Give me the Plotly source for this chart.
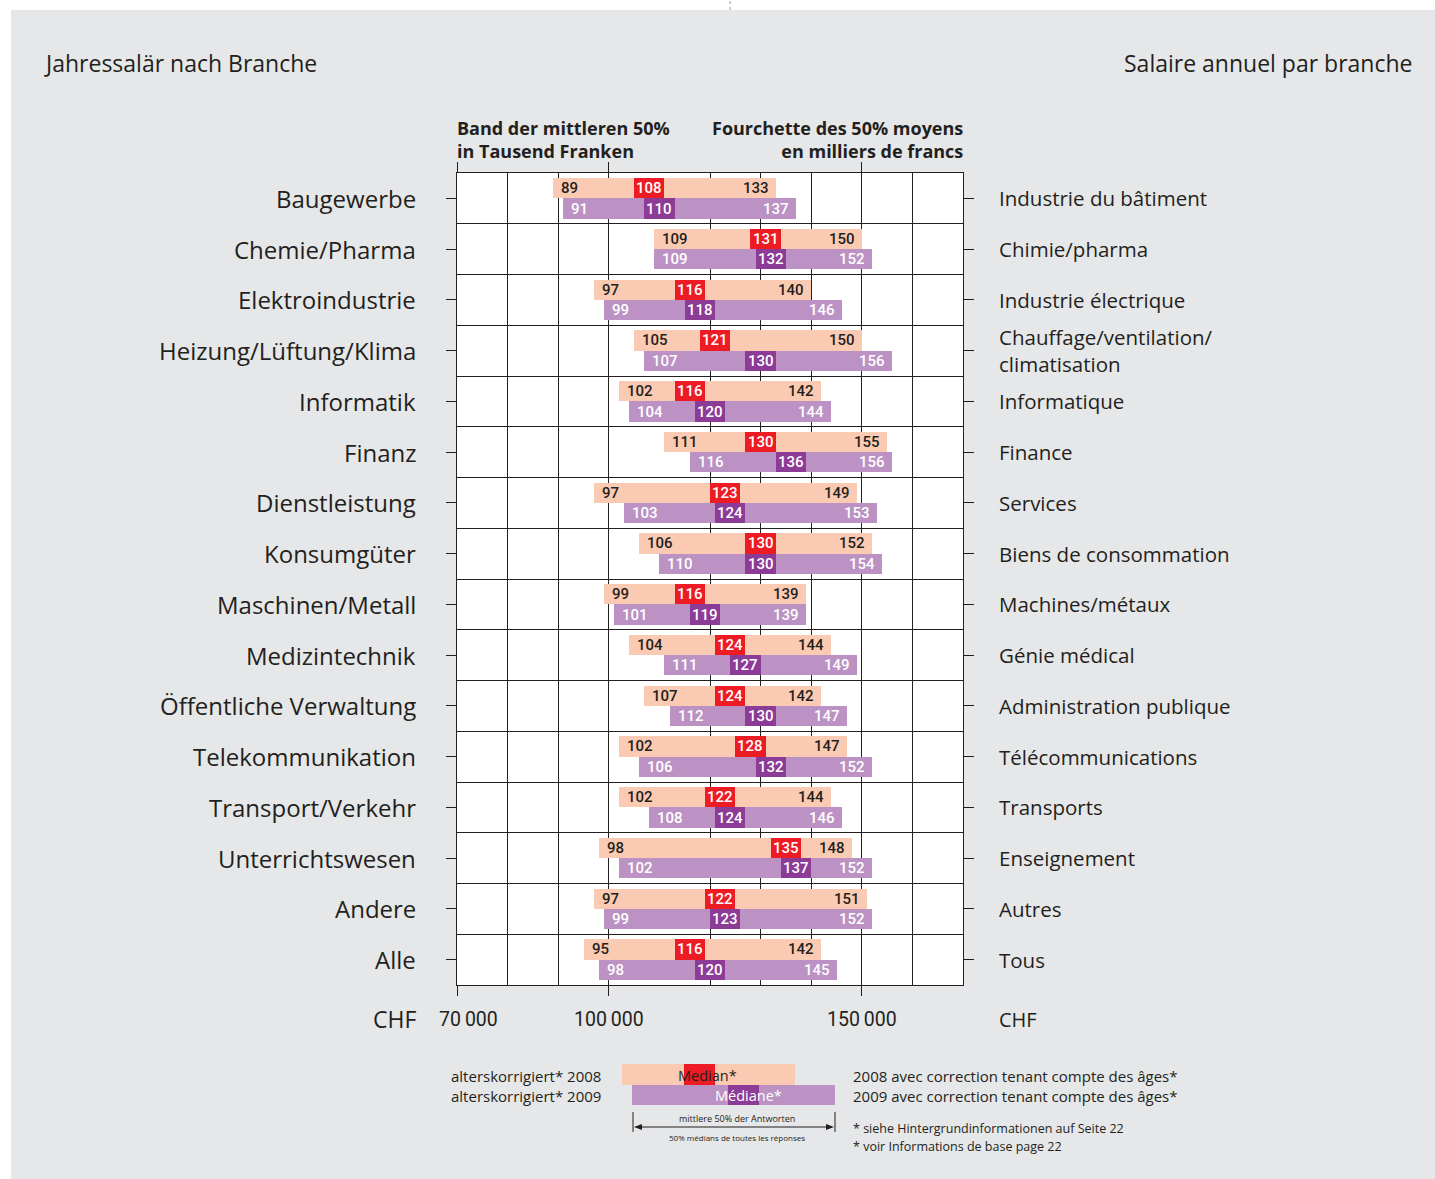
import plotly.graph_objects as go

# --- data (thousand CHF) ---
branchen_de = ["Baugewerbe", "Chemie/Pharma", "Elektroindustrie", "Heizung/Lüftung/Klima",
               "Informatik", "Finanz", "Dienstleistung", "Konsumgüter", "Maschinen/Metall",
               "Medizintechnik", "Öffentliche Verwaltung", "Telekommunikation",
               "Transport/Verkehr", "Unterrichtswesen", "Andere", "Alle"]
branches_fr = ["Industrie du bâtiment", "Chimie/pharma", "Industrie électrique",
               "Chauffage/ventilation/<br>climatisation", "Informatique", "Finance", "Services",
               "Biens de consommation", "Machines/métaux", "Génie médical",
               "Administration publique", "Télécommunications", "Transports", "Enseignement",
               "Autres", "Tous"]

low_2008 = [89, 109, 97, 105, 102, 111, 97, 106, 99, 104, 107, 102, 102, 98, 97, 95]
med_2008 = [108, 131, 116, 121, 116, 130, 123, 130, 116, 124, 124, 128, 122, 135, 122, 116]
high_2008 = [133, 150, 140, 150, 142, 155, 149, 152, 139, 144, 142, 147, 144, 148, 151, 142]

low_2009 = [91, 109, 99, 107, 104, 116, 103, 110, 101, 111, 112, 106, 108, 102, 99, 98]
med_2009 = [110, 132, 118, 130, 120, 136, 124, 130, 119, 127, 130, 132, 124, 137, 123, 120]
high_2009 = [137, 152, 146, 156, 144, 156, 153, 154, 139, 149, 147, 152, 146, 152, 152, 145]

x_ticks = [70000, 100000, 150000]
x_ticktext = ["70\u2009000", "100\u2009000", "150\u2009000"]
x_grid = [80000, 90000, 120000, 130000, 140000, 160000]

SALMON = "#FBCAB2"
RED = "#ED1C24"
LILAC = "#BB92C3"
PURPLE = "#8C3B97"
DARK = "#231F20"
BG = "#E6E7E8"
FONT = "Open Sans"
NUM_FONT = "Roboto"
MED_W = 6000

n = len(branchen_de)
rows = list(range(n))


# pixel -> paper helpers (plot area 457..963 x 173..985)
def px(p):
    return (p - 457) / 506


def py(p):
    return (985 - p) / 812


def note(x, y, text, size, color=DARK, xanchor="left", bold=False, family=FONT, weight=None,
         **kw):
    if bold:
        text = "<br>".join(f"<b>{t}</b>" for t in text.split("<br>"))
    font = dict(size=size, color=color, family=family)
    if weight:
        font["weight"] = weight
    d = dict(x=x, y=y, xref=kw.pop("xref", "paper"), yref=kw.pop("yref", "paper"), text=text,
             xanchor=xanchor, yanchor="middle", showarrow=False, font=font)
    d.update(kw)
    return d


fig = go.Figure()

for lows, meds, highs, off, c_band, c_med in [
    (low_2008, med_2008, high_2008, -0.2, SALMON, RED),
    (low_2009, med_2009, high_2009, 0.2, LILAC, PURPLE),
]:
    ys = [r + off for r in rows]
    fig.add_trace(go.Bar(orientation="h", y=ys, base=[v * 1000 for v in lows],
                         x=[(h - l) * 1000 for l, h in zip(lows, highs)],
                         width=0.4, marker=dict(color=c_band, line_width=0),
                         hoverinfo="skip", showlegend=False))
    fig.add_trace(go.Bar(orientation="h", y=ys, base=[m * 1000 - MED_W / 2 for m in meds],
                         x=[MED_W] * n, width=0.4, marker=dict(color=c_med, line_width=0),
                         hoverinfo="skip", showlegend=False))

annotations = []
num_size = 15
for i in rows:
    for lows, meds, highs, off, col in [
        (low_2008, med_2008, high_2008, -0.2, DARK),
        (low_2009, med_2009, high_2009, 0.2, "white"),
    ]:
        y = i + off
        annotations.append(note(lows[i] * 1000, y, str(lows[i]), num_size, col,
                                family=NUM_FONT, weight=500, xref="x", yref="y", xshift=6))
        annotations.append(note(highs[i] * 1000, y, str(highs[i]), num_size, col, "right",
                                family=NUM_FONT, weight=500, xref="x", yref="y", xshift=-5))
        annotations.append(note(meds[i] * 1000, y, str(meds[i]), num_size, "white", "center",
                                family=NUM_FONT, weight=500, xref="x", yref="y"))
    annotations.append(note(px(416), i, branchen_de[i], 24, DARK, "right", yref="y", xshift=2,
                            weight=500))
    annotations.append(note(px(999), i, branches_fr[i], 20.5, DARK, "left", yref="y",
                            align="left", xshift=-2, weight=500))

# tick labels
for v, t in zip(x_ticks, x_ticktext):
    annotations.append(note(v, py(1019), t, 19.5, DARK, "center", family=NUM_FONT,
                            xref="x", xshift=11 if v == x_ticks[0] else 0))
annotations.append(note(px(416), py(1019), "CHF", 23, DARK, "right", xshift=2, weight=500))
annotations.append(note(px(999), py(1019), "CHF", 20, DARK, "left", xshift=-2, weight=500))

# titles
annotations.append(note(px(44), py(63), "Jahressalär nach Branche", 23, xshift=-2, weight=500))
annotations.append(note(px(1413), py(63), "Salaire annuel par branche", 23, DARK, "right",
                        xshift=2, weight=500))
annotations.append(note(px(457), py(139), "Band der mittleren 50%<br>in Tausend Franken", 18,
                        bold=True, align="left", xshift=-2))
annotations.append(note(px(963), py(139), "Fourchette des 50% moyens<br>en milliers de francs",
                        18, DARK, "right", bold=True, align="right", xshift=2))

# legend texts
annotations += [
    note(px(449), py(1076), "alterskorrigiert* 2008", 15),
    note(px(449), py(1096), "alterskorrigiert* 2009", 15),
    note(px(851), py(1076), "2008 avec correction tenant compte des âges*", 15),
    note(px(851), py(1096), "2009 avec correction tenant compte des âges*", 15),
    note(px(851), py(1128), "* siehe Hintergrundinformationen auf Seite 22", 12.5),
    note(px(851), py(1146), "* voir Informations de base page 22", 12.5),
    note(px(707), py(1075), "Median*", 14.5, DARK, "center", weight=500),
    note(px(748), py(1095), "Médiane*", 14.5, "white", "center", weight=500),
    note(px(737), py(1118), "mittlere 50% der Antworten", 9, DARK, "center"),
    note(px(737), py(1137), "50% médians de toutes les réponses", 8, DARK, "center"),
]

shapes = [
    # white strips around grey panel
    dict(type="rect", xref="paper", yref="paper", x0=px(0), x1=px(1435), y0=py(10), y1=py(0),
         fillcolor="white", line_width=0, layer="below"),
    dict(type="rect", xref="paper", yref="paper", x0=px(0), x1=px(11), y0=py(1179), y1=py(0),
         fillcolor="white", line_width=0, layer="below"),
    dict(type="line", xref="paper", yref="paper", x0=px(730), x1=px(730), y0=py(10), y1=py(0),
         line=dict(color="#999999", width=1, dash="dot")),
    # legend bars
    dict(type="rect", xref="paper", yref="paper", x0=px(622), x1=px(795), y0=py(1085), y1=py(1064),
         fillcolor=SALMON, line_width=0),
    dict(type="rect", xref="paper", yref="paper", x0=px(684), x1=px(715), y0=py(1085), y1=py(1064),
         fillcolor=RED, line_width=0),
    dict(type="rect", xref="paper", yref="paper", x0=px(632), x1=px(835), y0=py(1105), y1=py(1085),
         fillcolor=LILAC, line_width=0),
    dict(type="rect", xref="paper", yref="paper", x0=px(728), x1=px(759), y0=py(1105), y1=py(1085),
         fillcolor=PURPLE, line_width=0),
    dict(type="line", xref="paper", yref="paper", x0=px(633), x1=px(633), y0=py(1132), y1=py(1112),
         line=dict(color=DARK, width=1)),
    dict(type="line", xref="paper", yref="paper", x0=px(835), x1=px(835), y0=py(1132), y1=py(1112),
         line=dict(color=DARK, width=1)),
    dict(type="line", xref="paper", yref="paper", x0=px(636), x1=px(832), y0=py(1127), y1=py(1127),
         line=dict(color=DARK, width=1)),
    # arrow heads
    dict(type="path", xref="paper", yref="paper",
         path=f"M {px(634)} {py(1127)} L {px(642)} {py(1124)} L {px(642)} {py(1130)} Z",
         fillcolor=DARK, line_width=0),
    dict(type="path", xref="paper", yref="paper",
         path=f"M {px(834)} {py(1127)} L {px(826)} {py(1124)} L {px(826)} {py(1130)} Z",
         fillcolor=DARK, line_width=0),
]

fig.update_layout(
    width=1435, height=1179,
    margin=dict(l=457, r=472, t=173, b=194),
    paper_bgcolor=BG, plot_bgcolor="white",
    barmode="overlay", bargap=0,
    font=dict(family=FONT, color=DARK),
    showlegend=False,
    annotations=annotations,
    shapes=shapes,
    xaxis=dict(range=[70000, 170000], tickvals=x_ticks, showticklabels=False,
               ticks="outside", ticklen=10, tickcolor=DARK, showgrid=True, gridcolor=DARK,
               gridwidth=1, showline=True, linecolor=DARK, linewidth=1, mirror="ticks",
               zeroline=False,
               minor=dict(tickvals=x_grid, showgrid=True, gridcolor=DARK, gridwidth=1, ticks="")),
    yaxis=dict(range=[n - 0.5, -0.5], tickvals=rows, showticklabels=False,
               ticks="outside", ticklen=10, tickcolor=DARK, showgrid=False,
               showline=True, linecolor=DARK, linewidth=1, mirror="ticks", zeroline=False,
               minor=dict(tickvals=[r + 0.5 for r in rows[:-1]], showgrid=True,
                          gridcolor=DARK, gridwidth=1, ticks="")),
)

fig.write_html("out.html", config={"displayModeBar": False},
               post_script="document.body.style.margin='0px';")
